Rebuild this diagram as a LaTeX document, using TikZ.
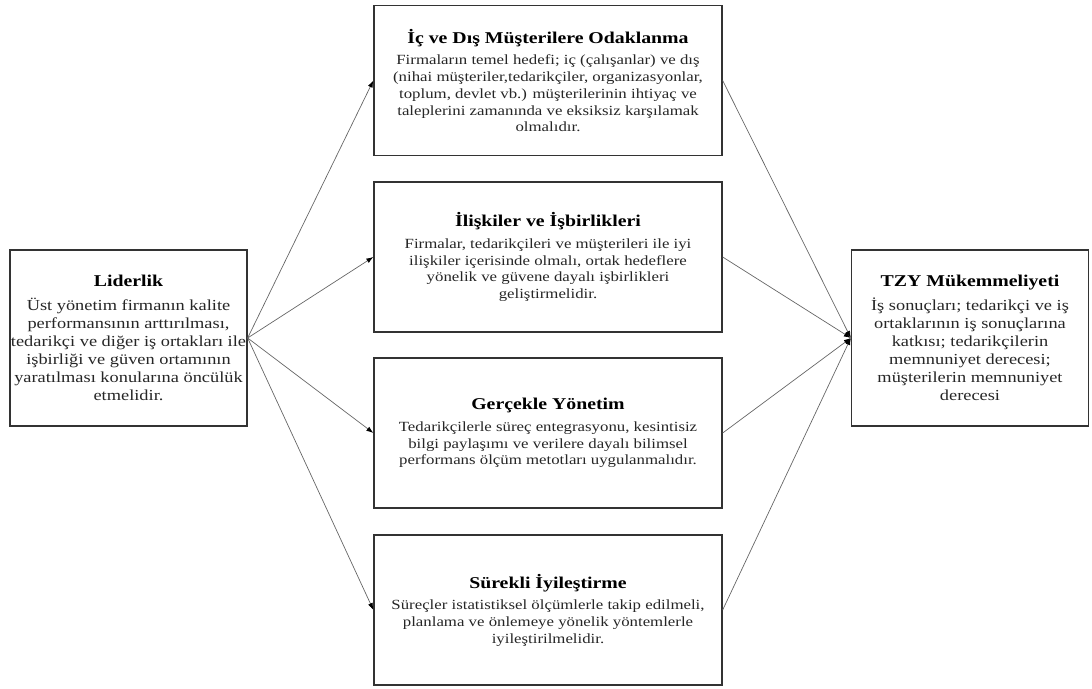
\documentclass[tikz,border=0pt]{standalone}
\usepackage{fontspec}
\setmainfont{Liberation Serif}[FakeStretch=1.2]
\usetikzlibrary{arrows.meta}
\begin{document}
\begin{tikzpicture}[x=1pt,y=1pt,
  box/.style={draw=black!80,line width=1.3pt,fill=white,align=center,
    inner sep=0pt,text=black!85,font=\fontsize{14}{16.7}\selectfont},
  midbox/.style={box,minimum width=348,minimum height=150},
  sidebox/.style={box,minimum width=237,minimum height=176,
    font=\fontsize{15.3}{18}\selectfont},
  link/.style={draw=black!60,line width=0.7pt,
    -{Latex[length=7pt,width=5pt,black]}},
]
\useasboundingbox (0,0) rectangle (1092,688);
\newcommand{\boxtitle}[1]{{\fontsize{16.5}{20}\selectfont\bfseries\color{black}#1}}

\node[midbox] (odak) at (548,607.5) {\boxtitle{İç ve Dış Müşterilere Odaklanma}\\[5pt]
  Firmaların temel hedefi; iç (çalışanlar) ve dış\\
  (nihai müşteriler,tedarikçiler, organizasyonlar,\\
  toplum, devlet vb.) müşterilerinin ihtiyaç ve\\
  taleplerini zamanında ve eksiksiz karşılamak\\
  olmalıdır.};
\node[midbox] (iliski) at (548,431) {\boxtitle{İlişkiler ve İşbirlikleri}\\[5pt]
  Firmalar, tedarikçileri ve müşterileri ile iyi\\
  ilişkiler içerisinde olmalı, ortak hedeflere\\
  yönelik ve güvene dayalı işbirlikleri\\
  geliştirmelidir.};
\node[midbox] (gercek) at (548,255) {\boxtitle{Gerçekle Yönetim}\\[5pt]
  Tedarikçilerle süreç entegrasyonu, kesintisiz\\
  bilgi paylaşımı ve verilere dayalı bilimsel\\
  performans ölçüm metotları uygulanmalıdır.};
\node[midbox] (surekli) at (548,78) {\boxtitle{Sürekli İyileştirme}\\[5pt]
  Süreçler istatistiksel ölçümlerle takip edilmeli,\\
  planlama ve önlemeye yönelik yöntemlerle\\
  iyileştirilmelidir.};

\node[sidebox] (lider) at (128.5,350) {\boxtitle{Liderlik}\\[6pt]
  Üst yönetim firmanın kalite\\
  performansının arttırılması,\\
  tedarikçi ve diğer iş ortakları ile\\
  işbirliği ve güven ortamının\\
  yaratılması konularına öncülük\\
  etmelidir.};
\node[sidebox] (tzy) at (970,350) {\boxtitle{TZY Mükemmeliyeti}\\[6pt]
  İş sonuçları; tedarikçi ve iş\\
  ortaklarının iş sonuçlarına\\
  katkısı; tedarikçilerin\\
  memnuniyet derecesi;\\
  müşterilerin memnuniyet\\
  derecesi};

\foreach \b in {odak,iliski,gercek,surekli}{
  \draw[link] (lider.east) -- (\b.west);
  \draw[link] (\b.east) -- (tzy.west);
}
\end{tikzpicture}
\end{document}
